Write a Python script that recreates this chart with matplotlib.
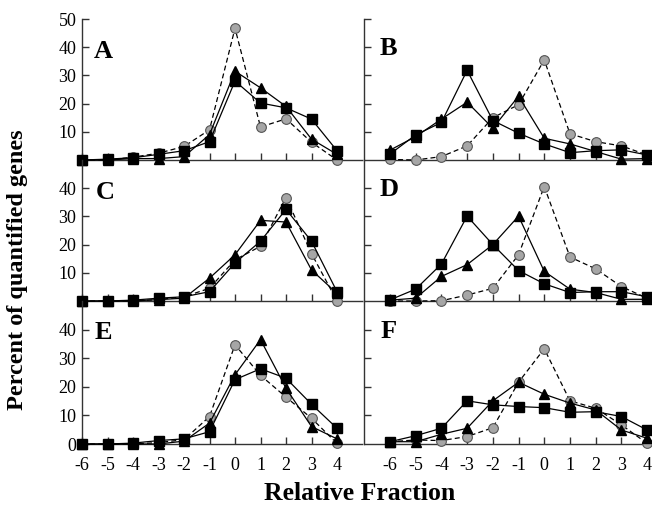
import matplotlib
matplotlib.use("Agg")
import matplotlib.pyplot as plt

x_vals = [-6, -5, -4, -3, -2, -1, 0, 1, 2, 3, 4]
x_ticks = [-6, -5, -4, -3, -2, -1, 0, 1, 2, 3, 4]
panel_letters = ["A", "B", "C", "D", "E", "F"]

# gray circles (dashed), black triangles, black squares
A_circle = [0, 0, 1.0, 2.4, 4.8, 10.7, 46.7, 11.7, 14.6, 6.3, 0]
A_tri = [0, 0, 0.5, 0.5, 1.2, 9.0, 31.5, 25.6, 19.0, 7.4, 2.0]
A_square = [0, 0.3, 0.8, 2.0, 3.3, 6.5, 28.0, 20.2, 18.5, 14.5, 3.3]

B_circle = [0.2, 0, 1.2, 5.0, 15.0, 19.6, 35.5, 9.3, 6.5, 5.0, 1.8]
B_tri = [3.5, 8.3, 14.5, 20.5, 11.3, 22.6, 7.7, 5.7, 3.0, 0.3, 0.5]
B_square = [2.1, 8.9, 13.3, 31.8, 14.0, 9.5, 5.7, 2.6, 3.3, 3.6, 1.8]

C_circle = [0, 0, 0, 0.5, 1.5, 4.5, 14.6, 19.4, 36.7, 16.8, 0]
C_tri = [0, 0, 0, 0.5, 1.0, 8.1, 16.4, 28.6, 28.0, 11.0, 2.7]
C_square = [0, 0, 0.3, 1.0, 1.5, 3.3, 13.5, 21.2, 32.5, 21.2, 3.3]

D_circle = [0, 0, 0.1, 2.1, 4.5, 16.4, 40.6, 15.6, 11.4, 5.1, 1.0]
D_tri = [0.3, 1.0, 8.7, 12.9, 20.0, 30.1, 10.5, 4.2, 3.0, 0.6, 0.6]
D_square = [0.4, 4.2, 13.1, 30.1, 20.0, 10.8, 6.1, 3.0, 3.3, 3.3, 1.5]

E_circle = [0, 0, 0, 0.5, 1.5, 9.6, 34.7, 24.0, 16.4, 9.0, 0.2]
E_tri = [0, 0, 0, 0, 1.0, 7.3, 24.2, 36.5, 19.5, 6.1, 1.8]
E_square = [0, 0, 0.3, 1.2, 1.8, 4.3, 22.5, 26.3, 23.0, 13.9, 5.5]

F_circle = [0.8, 1.4, 1.2, 2.6, 5.7, 21.6, 33.3, 15.1, 12.5, 6.7, 0.2]
F_tri = [0.8, 0.8, 3.4, 5.5, 15.1, 21.6, 17.4, 14.3, 11.9, 4.9, 2.0]
F_square = [0.8, 2.9, 5.5, 15.1, 13.7, 13.1, 12.7, 11.1, 11.3, 9.6, 4.9]

panels = [
    (A_circle, A_tri, A_square),
    (B_circle, B_tri, B_square),
    (C_circle, C_tri, C_square),
    (D_circle, D_tri, D_square),
    (E_circle, E_tri, E_square),
    (F_circle, F_tri, F_square),
]

W, H = 652, 511
plt.rcParams['font.family'] = ['Liberation Serif', 'DejaVu Serif']
plt.rcParams['axes.unicode_minus'] = False
fig = plt.figure(figsize=(W / 100, H / 100), dpi=100)

# pixel boxes: (left, right, top, bottom)
cols = [(82, 362, (-6, 4.98)), (364, 652, (-7.01, 4.19))]
rows = [(19, 160), (160, 301), (301, 444)]
letter_pos = [(-5.15, 38.6), (-6.05, 39.6), (-5.1, 38.6), (-6.05, 39.6), (-5.15, 39.0), (-6.05, 39.3)]

for i, (circ, tri, sq) in enumerate(panels):
    r, c = divmod(i, 2)
    l, rr, xl = cols[c]
    t, b = rows[r]
    ax = fig.add_axes([l / W, (H - b) / H, (rr - l) / W, (b - t) / H])
    ax.set_xlim(*xl)
    ax.set_ylim(0, 50)
    ax.patch.set_alpha(0)
    for s in ["top", "right"]:
        ax.spines[s].set_visible(False)
    for s in ["left", "bottom"]:
        ax.spines[s].set_linewidth(1.0)
        ax.spines[s].set_color("#333333")
    ax.plot(x_vals, circ, linestyle=(0, (4, 2.5)), color="black", lw=0.9,
            marker="o", ms=7, mfc="#a6a6a6", mec="#555555", mew=0.8, clip_on=False, zorder=3)
    ax.plot(x_vals, tri, linestyle="-", color="black", lw=0.9,
            marker="^", ms=7.5, mfc="black", mec="black", clip_on=False, zorder=4)
    ax.plot(x_vals, sq, linestyle="-", color="black", lw=0.9,
            marker="s", ms=6.5, mfc="black", mec="black", clip_on=False, zorder=5)
    ax.set_xticks(x_ticks)
    ax.tick_params(axis="both", direction="in", length=5, width=1.0, color="#333333",
                   labelsize=13)
    ax.tick_params(axis="x", pad=9)
    ax.tick_params(axis="y", pad=4)
    if r < 2:
        ax.set_xticklabels([])
    if c == 0:
        if r == 0:
            ax.set_yticks([10, 20, 30, 40, 50])
        elif r == 1:
            ax.set_yticks([10, 20, 30, 40])
        else:
            ax.set_yticks([0, 10, 20, 30, 40])
    else:
        ax.set_yticks([10, 20, 30, 40, 50] if r == 0 else [10, 20, 30, 40])
        ax.set_yticklabels([])
    lx, ly = letter_pos[i]
    ax.text(lx, ly, panel_letters[i], fontsize=19, fontweight="bold",
            ha="center", va="center")

fig.text(18 / W, 1 - 270 / H, "Percent of quantified genes", rotation=90,
         fontsize=17.5, fontweight="bold", ha="center", va="center")
fig.text(360 / W, 1 - 494 / H, "Relative Fraction", fontsize=18.5,
         fontweight="bold", ha="center", va="center")

fig.savefig("out.png", dpi=100)
